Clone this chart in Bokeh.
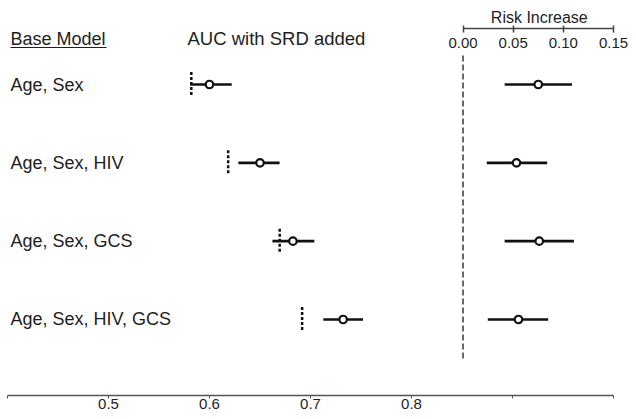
from bokeh.plotting import figure
from bokeh.models import Range1d, LinearAxis, FixedTicker, Title
from bokeh.core.properties import value
from bokeh.embed import file_html
from bokeh.resources import INLINE

# ---- data ----
models = ["Age, Sex", "Age, Sex, HIV", "Age, Sex, GCS", "Age, Sex, HIV, GCS"]
rows = [1, 2, 3, 4]
auc_base = [0.582, 0.6185, 0.6695, 0.6917]
auc_srd = [0.600, 0.650, 0.6826, 0.7323]
auc_lo = [0.581, 0.6286, 0.6623, 0.7127]
auc_hi = [0.622, 0.6694, 0.7038, 0.752]
risk = [0.075, 0.0533, 0.076, 0.0553]
risk_lo = [0.0415, 0.0237, 0.0415, 0.0247]
risk_hi = [0.1086, 0.0839, 0.1106, 0.0849]
auc_ticks = [0.4, 0.5, 0.6, 0.7, 0.8, 0.9, 1.0]
auc_tick_labels = ["", "0.5", "0.6", "0.7", "0.8", "", ""]
risk_ticks = [0.0, 0.05, 0.10, 0.15]
risk_tick_labels = ["0.00", "0.05", "0.10", "0.15"]

FONT = "Liberation Sans"
INK = "#1e1e1e"

# ---- geometry ----
W, H = 628, 411
LEFT = 7                      # frame left (AUC 0.4)
AUC_LO, AUC_HI = 0.4, 1.0
X_END = 613                   # pixel of AUC 1.0 / risk 0.15
px_per_auc = (X_END - LEFT) / (AUC_HI - AUC_LO)
frame_w = W - LEFT
risk_zero_auc = 0.851
risk_zero_px = (risk_zero_auc - AUC_LO) * px_per_auc
px_per_risk = ((X_END - LEFT) - risk_zero_px) / risk_ticks[-1]
row_px = 78.33
TOP = 28
BOTTOM_AX = 395
TITLE_HALF_W = 49.5           # half width of "Risk Increase" at 16px

def yrow(page_y):
    return 1 + (page_y - 84) / row_px

def xpx(page_x):
    return AUC_LO + (page_x - LEFT) / px_per_auc

# "Risk Increase" centred over the risk axis
risk_mid_px = LEFT + risk_zero_px + (risk_ticks[0] + risk_ticks[-1]) / 2 * px_per_risk
title = Title(text="Risk Increase", align="right",
              offset=W - (risk_mid_px + TITLE_HALF_W), standoff=0,
              text_font=FONT, text_font_size="16px", text_font_style="normal",
              text_color=INK)

p = figure(width=W, height=H, output_backend="svg", toolbar_location=None,
           x_range=Range1d(AUC_LO, AUC_LO + frame_w / px_per_auc),
           y_range=Range1d(yrow(BOTTOM_AX), yrow(TOP)),
           x_axis_type=None, y_axis_type=None, title=title,
           min_border=0, min_border_left=LEFT, min_border_top=TOP,
           outline_line_color=None)
p.grid.visible = False
p.extra_x_ranges = {"risk": Range1d(-risk_zero_px / px_per_risk,
                                    (frame_w - risk_zero_px) / px_per_risk)}

# bottom AUC axis
bax = LinearAxis(ticker=FixedTicker(ticks=auc_ticks), bounds=(AUC_LO, AUC_HI),
                 major_label_overrides={t: l for t, l in zip(auc_ticks, auc_tick_labels)})
bax.axis_line_color = "#555555"
bax.axis_line_width = 1.3
bax.major_tick_line_color = "#555555"
bax.major_tick_out = 3
bax.major_tick_in = 0
bax.minor_tick_line_color = None
bax.major_label_standoff = 0
bax.major_label_text_font = FONT
bax.major_label_text_font_size = "15px"
bax.major_label_text_color = INK
p.add_layout(bax, "below")

# top risk axis (tick labels are written under the line, see below)
tax = LinearAxis(x_range_name="risk", ticker=FixedTicker(ticks=risk_ticks),
                 bounds=(risk_ticks[0], risk_ticks[-1]))
tax.axis_line_color = "#444444"
tax.axis_line_width = 1.5
tax.major_tick_line_color = "#444444"
tax.major_tick_line_width = 1.5
tax.major_tick_out = 3
tax.major_tick_in = 4
tax.minor_tick_line_color = None
tax.major_label_text_color = None
tax.major_label_text_font_size = "0px"
tax.major_label_standoff = 0
p.add_layout(tax, "above")

# risk tick labels (inside, below the axis line)
p.text(x=risk_ticks, y=[yrow(42)] * len(risk_ticks), text=risk_tick_labels,
       x_range_name="risk", text_align="center", text_baseline="middle",
       text_font=value(FONT), text_font_size="15px", text_color=INK)

# headers
p.text(x=[xpx(10)], y=[yrow(38)], text=["Base Model"], text_align="left",
       text_baseline="middle", text_font=value(FONT), text_font_size="18px", text_color=INK)
p.segment(x0=[xpx(10)], y0=[yrow(47)], x1=[xpx(106)], y1=[yrow(47)],
          line_color=INK, line_width=1.2)
p.text(x=[xpx(187)], y=[yrow(38)], text=["AUC with SRD added"], text_align="left",
       text_baseline="middle", text_font=value(FONT), text_font_size="18.5px", text_color=INK)

# row labels
p.text(x=[xpx(10)] * len(models), y=rows, text=models, text_align="left",
       text_baseline="middle", text_font=value(FONT), text_font_size="18px", text_color=INK)

# risk zero reference line
p.segment(x0=[0.0], y0=[yrow(55)], x1=[0.0], y1=[yrow(358)], x_range_name="risk",
          line_color="#444444", line_width=1.6, line_dash="6 3")

# AUC part
p.segment(x0=auc_base, y0=[r - 0.16 for r in rows], x1=auc_base, y1=[r + 0.16 for r in rows],
          line_color="#111111", line_width=2.5, line_dash="3 2")
p.segment(x0=auc_lo, y0=rows, x1=auc_hi, y1=rows, line_color="#111111", line_width=2.6)
p.scatter(x=auc_srd, y=rows, marker="circle", size=7.5, fill_color="white",
          line_color="#111111", line_width=2.2)

# risk part
p.segment(x0=risk_lo, y0=rows, x1=risk_hi, y1=rows, x_range_name="risk",
          line_color="#111111", line_width=2.6)
p.scatter(x=risk, y=rows, x_range_name="risk", marker="circle", size=7.5, fill_color="white",
          line_color="#111111", line_width=2.2)

open("out.html", "w").write(file_html(p, INLINE))
